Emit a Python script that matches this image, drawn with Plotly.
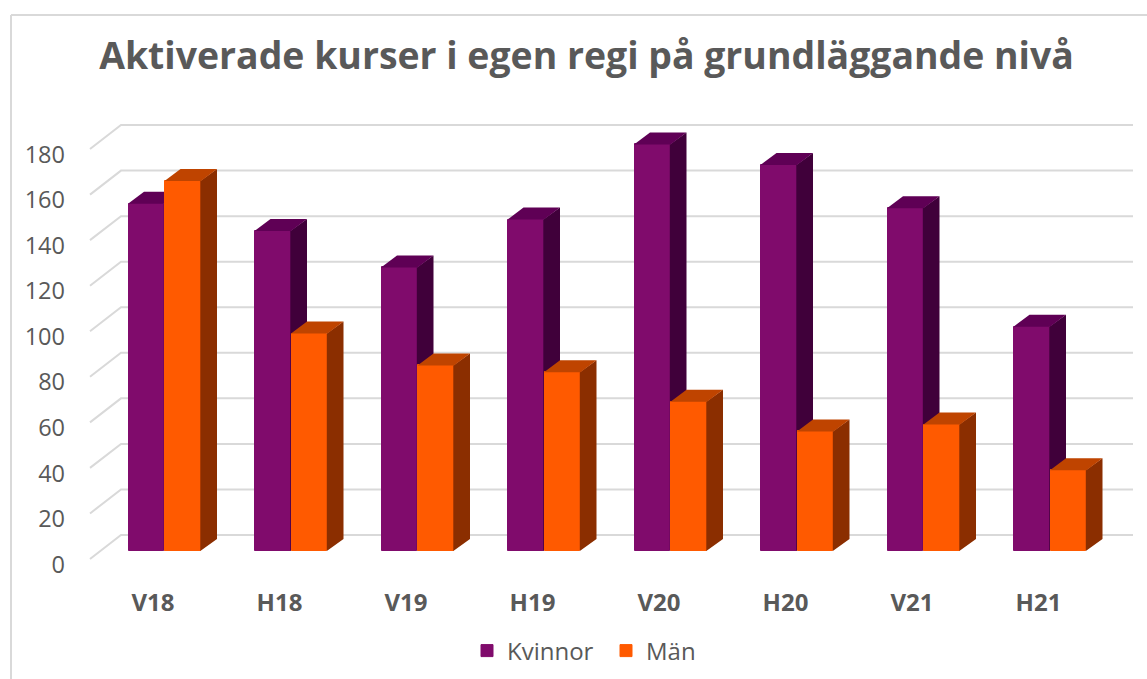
import plotly.graph_objects as go

categories = ["V18", "H18", "V19", "H19", "V20", "H20", "V21", "H21"]
kvinnor = [152.5, 140.5, 124.5, 145.5, 178.5, 169.5, 150.5, 98.5]
man = [162.5, 95.5, 81.5, 78.5, 65.5, 52.5, 55.5, 35.5]
y_ticks = [0, 20, 40, 60, 80, 100, 120, 140, 160, 180]

W, H = 1147, 679
ML, MT, MB = 70, 100, 89
PX_PER_CAT = 126.5
PX_PER_VAL = 2.2775
X0_PX, Y0_PX = 164.5, 551
BAR_W = 36.5 / PX_PER_CAT
OUTLINE = 0.5 / PX_PER_CAT
SEAM = 0.7 / PX_PER_CAT
DX_BAR, DY_BAR = 16 / PX_PER_CAT, 12 / PX_PER_VAL
x_range = [(ML - X0_PX) / PX_PER_CAT, (W - X0_PX) / PX_PER_CAT]
y_range = [(Y0_PX - (H - MB)) / PX_PER_VAL, (Y0_PX - MT) / PX_PER_VAL]

TEXT = "#595959"
GRID = "#d9d9d9"
FONT = "Open Sans"

def px_x(p):
    return (p - X0_PX) / PX_PER_CAT

def faces(values, left_off):
    sx, sy, tx, ty = [], [], [], []
    for i, v in enumerate(values):
        l = i + left_off
        r = l + BAR_W
        s = r - SEAM
        sx += [s, s, r + DX_BAR, r + DX_BAR, s, None]
        sy += [0, v, v + DY_BAR, DY_BAR, 0, None]
        tx += [l, r, r + DX_BAR, l + DX_BAR, l, None]
        ty += [v, v, v + DY_BAR, v + DY_BAR, v, None]
    return sx, sy, tx, ty

def poly(x, y, color, xa, ya):
    return go.Scatter(x=x, y=y, mode="lines", fill="toself", fillcolor=color,
                      line=dict(width=0, color=color), hoverinfo="skip",
                      showlegend=False, xaxis=xa, yaxis=ya)

fig = go.Figure()

# Wall grid lines: diagonal on the side wall, then along the back wall
BACK_DY = 16 / PX_PER_VAL
FRONT_DY = -8 / PX_PER_VAL
gx, gy = [], []
for t in y_ticks:
    gx += [px_x(90), px_x(121), px_x(1133), None]
    gy += [t + FRONT_DY, t + BACK_DY, t + BACK_DY, None]
fig.add_trace(go.Scatter(x=gx, y=gy, mode="lines", line=dict(color=GRID, width=2),
                         hoverinfo="skip", showlegend=False, xaxis="x", yaxis="y"))

# Kvinnor
sx, sy, tx, ty = faces(kvinnor, -BAR_W)
fig.add_trace(go.Bar(x=list(range(len(categories))), y=kvinnor, name="Kvinnor",
                     width=BAR_W - 2 * OUTLINE, offset=-BAR_W + OUTLINE,
                     marker=dict(color="#800b6c", line=dict(color="#800b6c", width=1)),
                     xaxis="x2", yaxis="y2"))
fig.add_trace(poly(sx, sy, "#40003a", "x2", "y2"))
fig.add_trace(poly(tx, ty, "#5f0055", "x2", "y2"))

# Män
sx, sy, tx, ty = faces(man, 0)
fig.add_trace(go.Bar(x=list(range(len(categories))), y=man, name="Män",
                     width=BAR_W - 2 * OUTLINE, offset=OUTLINE,
                     marker=dict(color="#ff5a00", line=dict(color="#ff5a00", width=1)),
                     xaxis="x3", yaxis="y3"))
fig.add_trace(poly(sx, sy, "#8b2e00", "x3", "y3"))
fig.add_trace(poly(tx, ty, "#bf4400", "x3", "y3"))

hidden = dict(visible=False, showgrid=False, zeroline=False, fixedrange=True)
fig.update_layout(
    width=W, height=H,
    margin=dict(l=ML, r=0, t=MT, b=MB, pad=0, autoexpand=False),
    paper_bgcolor="white", plot_bgcolor="rgba(0,0,0,0)",
    barmode="overlay", bargap=0,
    font=dict(family=FONT, color=TEXT),
    title=dict(text="<b>Aktiverade kurser i egen regi på grundläggande nivå</b>",
               font=dict(family=FONT, size=37.4, color=TEXT),
               x=586.5 / W, xref="container", xanchor="center",
               y=1 - 56 / H, yref="container", yanchor="middle"),
    xaxis=dict(range=x_range, showgrid=False, zeroline=False, showline=False, ticks="",
               tickmode="array", tickvals=[i - 11.5 / PX_PER_CAT for i in range(len(categories))],
               ticktext=categories, tickfont=dict(family=FONT, size=24, color=TEXT, weight="bold"),
               ticklabelstandoff=-4, fixedrange=True),
    yaxis=dict(range=y_range, showgrid=False, zeroline=False, showline=False, ticks="",
               tickmode="array", tickvals=[t - 5.9 for t in y_ticks],
               ticktext=[str(t) for t in y_ticks], tickfont=dict(family=FONT, size=23.5, color=TEXT),
               ticklabelstandoff=4, fixedrange=True),
    xaxis2=dict(range=x_range, overlaying="x", **hidden),
    yaxis2=dict(range=y_range, overlaying="y", **hidden),
    xaxis3=dict(range=x_range, overlaying="x", **hidden),
    yaxis3=dict(range=y_range, overlaying="y", **hidden),
    legend=dict(orientation="h", x=467 / W, xref="container", xanchor="left",
                y=1 - 651 / H, yref="container", yanchor="middle",
                font=dict(family=FONT, size=24, color=TEXT), bgcolor="rgba(0,0,0,0)",
                entrywidth=94, entrywidthmode="pixels",
                itemclick=False, itemdoubleclick=False, traceorder="normal"),
    shapes=[
        dict(type="line", xref="paper", yref="paper",
             x0=-(ML - 11) / (W - ML), x1=1, y0=1 + (MT - 15) / (H - MT - MB), y1=1 + (MT - 15) / (H - MT - MB),
             line=dict(color=GRID, width=2)),
        dict(type="line", xref="paper", yref="paper",
             x0=-(ML - 11) / (W - ML), x1=-(ML - 11) / (W - ML), y0=1 + (MT - 15) / (H - MT - MB), y1=-MB / (H - MT - MB),
             line=dict(color=GRID, width=2)),
    ],
)
fig.write_html("out.html", config={"displayModeBar": False},
               post_script="document.body.style.margin='0';document.body.style.overflow='hidden';")
